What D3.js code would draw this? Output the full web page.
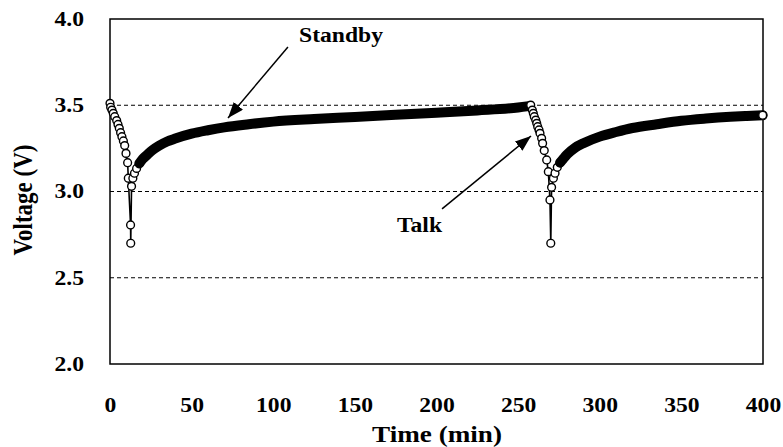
<!DOCTYPE html>
<html><head><meta charset="utf-8">
<script src="https://cdn.jsdelivr.net/npm/d3@7/dist/d3.min.js"></script>
<style>
html,body{margin:0;padding:0;background:#fff;}
svg{display:block;}
text{font-family:"Liberation Serif","Times New Roman",serif;font-weight:bold;fill:#000;}
</style></head>
<body>
<svg id="chart" width="783" height="447"></svg>
<script>
// ---- data (time in min, voltage in V) ----
const talk1Time = [0, 0.4, 1.2, 2.0, 2.9, 4.1, 4.9, 5.7, 6.5, 7.3, 8.2, 9.0, 9.8, 10.8, 11.2, 12.6, 12.7];
const talk1Volt = [3.511, 3.488, 3.472, 3.453, 3.434, 3.411, 3.389, 3.366, 3.341, 3.318, 3.293, 3.266, 3.221, 3.167, 3.077, 2.806, 2.700];
const standby1Time = [13.2, 14.0, 15.0, 16.3, 18.0, 20.0, 22.5, 26, 30, 35, 40, 50, 60, 70, 85, 100, 125, 150, 175, 200, 225, 250, 256.5];
const standby1Volt = [3.030, 3.077, 3.106, 3.134, 3.163, 3.188, 3.210, 3.240, 3.265, 3.290, 3.307, 3.335, 3.355, 3.372, 3.390, 3.405, 3.420, 3.432, 3.445, 3.457, 3.470, 3.487, 3.495];
const talk2Time = [257.7, 258.7, 259.3, 259.9, 260.8, 261.4, 262.0, 262.8, 263.4, 264.4, 265.0, 266.0, 267.5, 268.5, 269.5, 270.0];
const talk2Volt = [3.501, 3.472, 3.453, 3.434, 3.414, 3.395, 3.376, 3.357, 3.337, 3.308, 3.279, 3.237, 3.183, 3.115, 2.951, 2.700];
const standby2Time = [270.5, 271.6, 272.6, 274.0, 275.7, 277.7, 280, 285, 290, 300, 310, 320, 335, 350, 365, 380, 390, 399.8];
const standby2Volt = [3.024, 3.077, 3.106, 3.140, 3.167, 3.190, 3.215, 3.255, 3.280, 3.318, 3.345, 3.368, 3.390, 3.410, 3.423, 3.433, 3.438, 3.442];

const xTicks = [0, 50, 100, 150, 200, 250, 300, 350, 400];
const yTicks = [2.0, 2.5, 3.0, 3.5, 4.0];
const gridLines = [2.5, 3.0, 3.5];
const xTitle = "Time (min)";
const yTitle = "Voltage (V)";
// annotations: label, label anchor (t,V), arrow start (t,V), arrow tip (t,V)
const annLabels = ["Standby", "Talk"];
const annLabelPos = [[115.8, 3.867], [175.8, 2.765]];
const annArrowFrom = [[109.0, 3.838], [203.4, 2.899]];
const annArrowTo = [[72.3, 3.426], [257.9, 3.322]];

// ---- layout ----
const svg = d3.select("#chart");
const M = {left:110, right:763, top:19, bottom:364};
const SX = 1.18; // horizontal stretch of text in the original
const x = d3.scaleLinear().domain([0, 400]).range([M.left, M.right]);
const y = d3.scaleLinear().domain([2, 4]).range([M.bottom, M.top]);

const zip = (ts, vs) => ts.map((t, i) => ({t, v: vs[i]}));
const talk1 = zip(talk1Time, talk1Volt);
const standby1 = zip(standby1Time, standby1Volt);
const talk2 = zip(talk2Time, talk2Volt);
const standby2 = zip(standby2Time, standby2Volt);
const all = [...talk1, ...standby1, ...talk2, ...standby2];

// grid
svg.append("g").selectAll("line").data(gridLines).join("line")
  .attr("x1", M.left).attr("x2", M.right)
  .attr("y1", d => y(d)).attr("y2", d => y(d))
  .attr("stroke", "#000").attr("stroke-width", 1).attr("stroke-dasharray", "4,3");

// frame
svg.append("rect").attr("x", M.left).attr("y", M.top)
  .attr("width", M.right - M.left).attr("height", M.bottom - M.top)
  .attr("fill", "none").attr("stroke", "#000").attr("stroke-width", 1.5);

// axes
const xAxis = svg.append("g").attr("transform", `translate(0,${M.bottom})`)
  .call(d3.axisBottom(x).tickValues(xTicks).tickSize(0).tickPadding(34).tickFormat(d3.format("d")));
xAxis.select(".domain").remove();
xAxis.selectAll("text").attr("font-size", 20).attr("transform", `scale(${SX},1)`)
  .style("font-family", '"Liberation Serif", serif').style("font-weight", "bold");

const yAxis = svg.append("g").attr("transform", `translate(${M.left},0)`)
  .call(d3.axisLeft(y).tickValues(yTicks).tickSize(0).tickPadding(22).tickFormat(d3.format(".1f")));
yAxis.select(".domain").remove();
yAxis.selectAll("text").attr("font-size", 20).attr("transform", `scale(${SX},1)`)
  .style("font-family", '"Liberation Serif", serif').style("font-weight", "bold");

// titles
svg.append("text").attr("transform", `translate(437,442) scale(${SX},1)`)
  .attr("text-anchor", "middle").attr("font-size", 23).text(xTitle);
svg.append("text").attr("transform", `translate(32,200) scale(${SX},1) rotate(-90)`)
  .attr("text-anchor", "middle").attr("font-size", 23).text(yTitle);

// data
const line = d3.line().x(d => x(d.t)).y(d => y(d.v));
const band = d3.line().x(d => x(d.t)).y(d => y(d.v)).curve(d3.curveMonotoneX);
const R = 3.9;
const plot = svg.append("g");
plot.append("path").datum(all).attr("d", line)
  .attr("fill", "none").attr("stroke", "#000").attr("stroke-width", 1.6);

function circles(data) {
  plot.append("g").selectAll("circle").data(data).join("circle")
    .attr("cx", d => x(d.t)).attr("cy", d => y(d.v)).attr("r", R)
    .attr("fill", "#fff").attr("stroke", "#000").attr("stroke-width", 1.4);
}
function bandPath(data) {
  plot.append("path").datum(data).attr("d", band)
    .attr("fill", "none").attr("stroke", "#000").attr("stroke-width", 10)
    .attr("stroke-linecap", "round").attr("stroke-linejoin", "round");
}
const BAND_START = 4;
circles(talk1);
circles(standby1.slice(0, BAND_START + 1));
bandPath(standby1.slice(BAND_START));
circles(talk2);
circles(standby2.slice(0, BAND_START + 1));
bandPath(standby2.slice(BAND_START));
circles(standby2.slice(-1));

// annotations
svg.append("defs").append("marker").attr("id", "ah")
  .attr("markerUnits", "userSpaceOnUse").attr("markerWidth", 18).attr("markerHeight", 14)
  .attr("refX", 16).attr("refY", 6).attr("orient", "auto")
  .append("path").attr("d", "M0,0 L16,6 L0,12 Z").attr("fill", "#000");
annLabels.forEach((lab, i) => {
  svg.append("line")
    .attr("x1", x(annArrowFrom[i][0])).attr("y1", y(annArrowFrom[i][1]))
    .attr("x2", x(annArrowTo[i][0])).attr("y2", y(annArrowTo[i][1]))
    .attr("stroke", "#000").attr("stroke-width", 1.5).attr("marker-end", "url(#ah)");
  svg.append("text")
    .attr("transform", `translate(${x(annLabelPos[i][0])},${y(annLabelPos[i][1])}) scale(${SX},1)`)
    .attr("font-size", 20).text(lab);
});
</script>
</body></html>
